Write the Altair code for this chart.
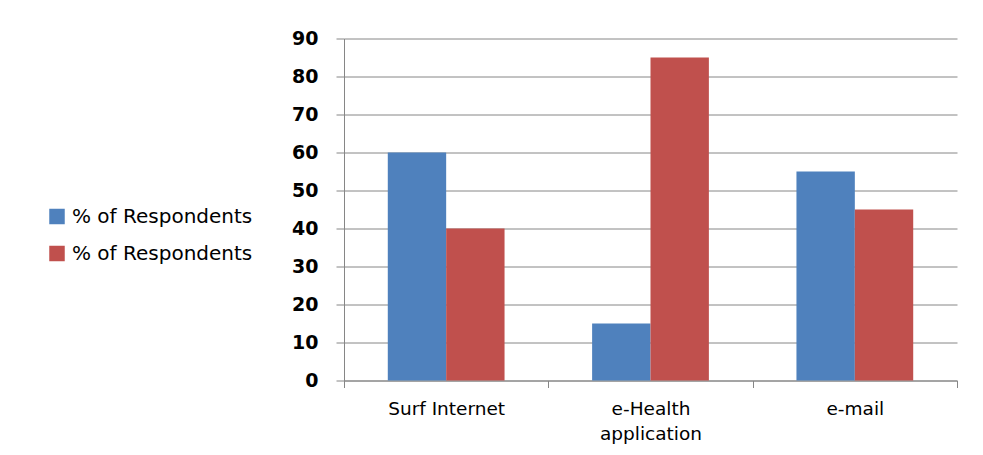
import altair as alt
import pandas as pd

categories = ["Surf Internet", "e-Health application", "e-mail"]
series = ["Series A", "Series B"]
series_label = "% of Respondents"
values_a = [60, 15, 55]
values_b = [40, 85, 45]
y_ticks = [0, 10, 20, 30, 40, 50, 60, 70, 80, 90]

rows = []
for c, a, b in zip(categories, values_a, values_b):
    rows.append({"category": c, "series": series[0], "value": a})
    rows.append({"category": c, "series": series[1], "value": b})
df = pd.DataFrame(rows)

FONT = "DejaVu Sans"

chart = alt.Chart(df).mark_bar().encode(
    x=alt.X(
        "category:N",
        sort=categories,
        scale=alt.Scale(paddingInner=0, paddingOuter=0),
        axis=alt.Axis(
            title=None,
            labelAngle=0,
            labelFont=FONT,
            labelFontSize=18.5,
            labelColor="#000000",
            labelPadding=12,
            labelLineHeight=25,
            labelExpr="datum.value == 'e-Health application' ? ['e-Health', 'application'] : datum.value",
            tickBand="extent",
            tickSize=7,
            tickColor="#868686",
            domainColor="#868686",
            grid=False,
        ),
    ),
    xOffset=alt.XOffset("series:N", sort=series, scale=alt.Scale(paddingInner=0, paddingOuter=0.75)),
    y=alt.Y(
        "value:Q",
        scale=alt.Scale(domain=[0, 90], nice=False),
        axis=alt.Axis(
            title=None,
            values=y_ticks,
            labelFont=FONT,
            labelFontSize=19,
            labelFontWeight="bold",
            labelColor="#000000",
            labelPadding=18,
            tickSize=8,
            tickColor="#868686",
            domainColor="#868686",
            gridColor="#868686",
            gridWidth=1,
        ),
    ),
    color=alt.Color(
        "series:N",
        sort=series,
        scale=alt.Scale(domain=series, range=["#4F81BD", "#C0504D"]),
        legend=alt.Legend(
            title=None,
            orient="none",
            legendX=-297,
            legendY=168,
            symbolType="square",
            symbolSize=240,
            symbolStrokeWidth=0,
            labelFont=FONT,
            labelFontSize=20,
            labelLimit=400,
            labelColor="#000000",
            labelOffset=5,
            rowPadding=17,
            labelExpr="'" + series_label + "'",
        ),
    ),
).properties(
    width=613,
    height=342,
    autosize=alt.AutoSizeParams(type="none"),
    padding={"left": 344, "top": 38.5, "right": 26, "bottom": 74.5},
).configure(
    background="#ffffff",
    view=alt.ViewConfig(stroke=None),
)

chart.save("out.html", embed_options={"renderer": "svg", "actions": False})
